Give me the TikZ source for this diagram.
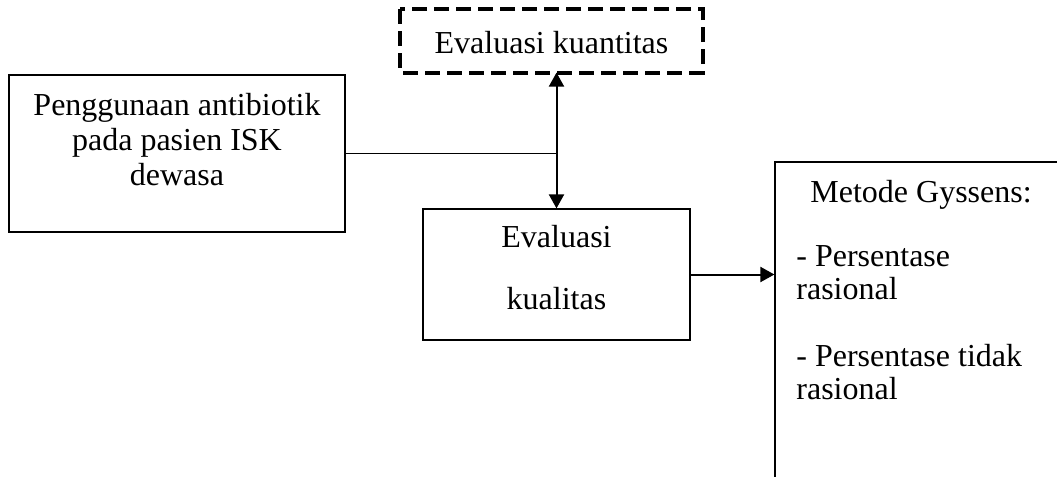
\documentclass[tikz,border=0pt]{standalone}
\usepackage{fontspec}
\setmainfont{Liberation Serif}
\usetikzlibrary{arrows.meta}

\begin{document}
\begin{tikzpicture}[x=0.5pt,y=-0.5pt,
        box/.style={rectangle,draw,line width=0.6pt,inner sep=0pt},
        txt/.style={inner sep=0pt,font=\fontsize{16}{17.5}\selectfont},
        link/.style={line width=1pt,-{Triangle[length=7pt,width=7.5pt]}}]
        \useasboundingbox (0,0) rectangle (1057,477);
        \clip (0,0) rectangle (1057,477);

        \node[box,minimum width=168pt,minimum height=78.5pt] (use) at (177,153.5) {};
        \node[box,draw=none,minimum width=150.5pt,minimum height=31pt] (qty) at (551.5,41) {};
        \draw[line width=2pt,dash pattern=on 7.5pt off 3.5pt] (qty.north west) rectangle (qty.south east);
        \node[box,minimum width=133.5pt,minimum height=65.5pt] (qual) at (556.5,274.5) {};
        \node[box,minimum width=162.5pt,minimum height=179pt] (method) at (937.5,341) {};

        \node[txt,align=center,anchor=base] (usetxt) at (177,185) {Penggunaan antibiotik\\pada pasien ISK\\dewasa};
        \node[txt,anchor=base] (qtytxt) at (551.5,53) {Evaluasi kuantitas};
        \node[txt,align=center,anchor=base,font=\fontsize{16}{31}\selectfont] (qualtxt) at (556.5,309) {Evaluasi\\kualitas};
        \node[txt,anchor=base west] (methodhead) at (810,202) {Metode Gyssens:};
        \node[txt,align=left,anchor=base west,font=\fontsize{16}{16.5}\selectfont] (methodtxt) at (796,399) {- Persentase\\rasional\\[17pt]- Persentase tidak\\rasional};

        \draw[line width=0.6pt] (use.east) -- (use.east -| qual.north);
        \draw[link,{Triangle[length=7pt,width=7.5pt]}-{Triangle[length=7pt,width=7.5pt]}] (qual.north |- qty.south) -- (qual.north);
        \draw[link] (qual.east) -- (qual.east -| method.west);

    \end{tikzpicture}
\end{document}
